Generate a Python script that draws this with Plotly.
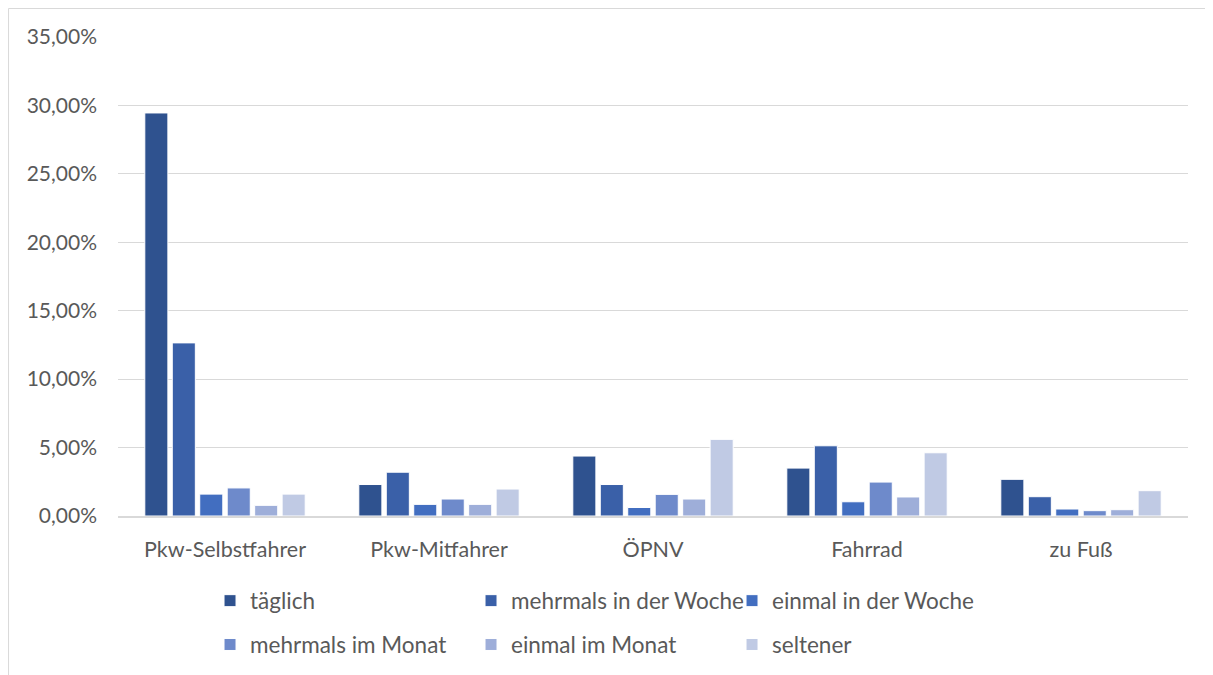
import plotly.graph_objects as go

categories = ["Pkw-Selbstfahrer", "Pkw-Mitfahrer", "ÖPNV", "Fahrrad", "zu Fuß"]

taeglich = [29.45, 2.30, 4.38, 3.50, 2.68]
mehrmals_woche = [12.65, 3.20, 2.30, 5.13, 1.41]
einmal_woche = [1.60, 0.85, 0.62, 1.04, 0.51]
mehrmals_monat = [2.05, 1.24, 1.58, 2.48, 0.39]
einmal_monat = [0.78, 0.85, 1.24, 1.39, 0.46]
seltener = [1.60, 1.97, 5.60, 4.62, 1.85]

series_names = ["täglich", "mehrmals in der Woche", "einmal in der Woche",
                "mehrmals im Monat", "einmal im Monat", "seltener"]
series_values = [taeglich, mehrmals_woche, einmal_woche,
                 mehrmals_monat, einmal_monat, seltener]
colors = ["#2F528F", "#3A60A8", "#426EC0", "#6E8ACB", "#9EAED9", "#C0CAE4"]

FONT = "Lato"
GREY = "#595959"

fig = go.Figure()

for i, (name, vals, col) in enumerate(zip(series_names, series_values, colors)):
    fig.add_trace(go.Bar(
        x=categories,
        y=vals,
        name=name,
        marker=dict(color=col, line=dict(color="white", width=1)),
        legend="legend" if i < 3 else "legend2",
    ))

legend_style = dict(
    orientation="h",
    xanchor="left",
    yanchor="middle",
    entrywidth=216,
    entrywidthmode="pixels",
    font=dict(family=FONT, size=22.5, color=GREY),
    bgcolor="rgba(0,0,0,0)",
    itemclick=False,
)

# die Seite hat 8px Rand, deshalb etwas kleiner als das Fenster
fig.update_layout(
    width=1205,
    height=667,
    barmode="group",
    bargap=0.23,
    bargroupgap=0.16,
    separators=",.",
    plot_bgcolor="white",
    paper_bgcolor="white",
    margin=dict(l=110, r=25, t=29, b=159, autoexpand=False),
    font=dict(family=FONT, size=21, color=GREY),
    showlegend=True,
    legend=dict(x=0.086, y=-0.1775, **legend_style),
    legend2=dict(x=0.086, y=-0.269, **legend_style),
)

fig.update_yaxes(
    range=[0, 35],
    dtick=5,
    tickformat=".2f",
    ticksuffix="%",
    showgrid=True,
    gridcolor="#D9D9D9",
    gridwidth=1,
    zeroline=False,
    ticks="",
    ticklabelstandoff=20,
    tickfont=dict(family=FONT, size=21, color=GREY),
)
fig.update_xaxes(
    showline=True,
    linecolor="#D9D9D9",
    linewidth=1.5,
    ticks="",
    ticklabelstandoff=13,
    tickfont=dict(family=FONT, size=21.5, color=GREY),
)

# Rahmen um das Diagramm
fig.add_shape(
    type="rect",
    xref="paper", yref="paper",
    x0=-0.1023, x1=1.06, y0=-0.5, y1=1.0595,
    line=dict(color="#D9D9D9", width=1),
    fillcolor="rgba(0,0,0,0)",
    layer="below",
)

fig.write_html("out.html")
